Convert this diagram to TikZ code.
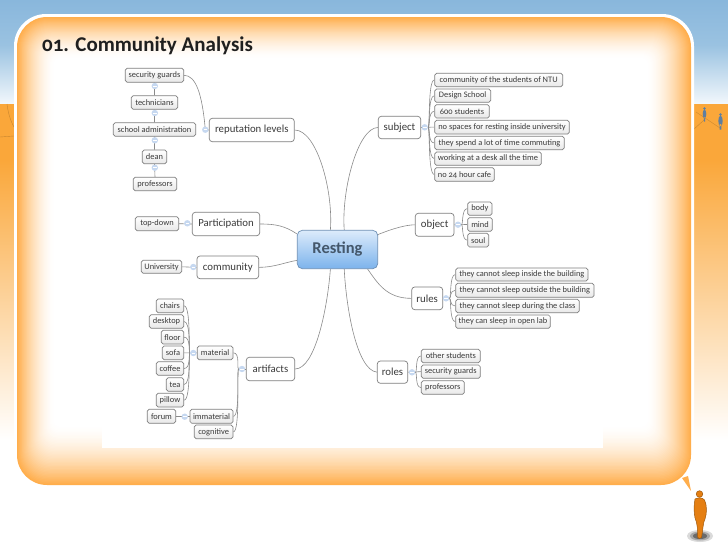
\documentclass[tikz,border=0pt]{standalone}
\usepackage{fontspec}
\setmainfont{Carlito}[Numbers=OldStyle]
\pgfdeclarelayer{bg}
\pgfdeclarelayer{conn}
\pgfsetlayers{bg,conn,main}
\definecolor{cardo}{HTML}{FFAE4C}
\definecolor{groundo}{HTML}{FAA73A}
\definecolor{skytop}{HTML}{89B7DC}
\definecolor{skymid}{HTML}{9AC2E1}
\definecolor{skylow}{HTML}{F3F8FC}
\definecolor{ink}{HTML}{3A3A3A}
\definecolor{boxline}{HTML}{7F7F7F}
\definecolor{wire}{HTML}{8A8A8A}
\definecolor{dot}{HTML}{C6D8F0}
\definecolor{mandk}{HTML}{E57F12}
\definecolor{roottop}{HTML}{DCEBFB}
\definecolor{rootlow}{HTML}{7CB3EC}
\definecolor{rootline}{HTML}{6C8FB5}
\definecolor{roottext}{HTML}{44576B}
\definecolor{farman}{HTML}{5F7FA0}
\definecolor{shadowa}{HTML}{DADADA}
\definecolor{shadowb}{HTML}{A8A8A8}
\definecolor{shadowc}{HTML}{6A6A6A}
\tikzset{
  leaf/.style={draw=boxline,line width=.7pt,rounded corners=1.8pt,top color=white,bottom color=black!9,font=\fontsize{8.4}{9}\selectfont,text=ink},
  midn/.style={draw=boxline,line width=.7pt,rounded corners=3pt,fill=white,font=\fontsize{10.8}{12}\selectfont,text=ink},
  rootn/.style={draw=rootline,line width=.7pt,rounded corners=5pt,top color=roottop,bottom color=rootlow,font=\bfseries\fontsize{16.5}{18}\selectfont,text=roottext},
  wirel/.style={draw=wire,line width=.6pt},
  dotn/.style={circle,fill=dot,inner sep=0pt,minimum size=6.4pt,
    path picture={\draw[white,line width=.6pt] ([xshift=-1.8pt]path picture bounding box.center) -- ([xshift=1.8pt]path picture bounding box.center);}}
}
\newcommand{\bx}[7][leaf]{\node[#1,inner sep=0pt,minimum width={(#5)-(#3)},minimum height={(#6)-(#4)}] (#2) at ({((#3)+(#5))/2},{((#4)+(#6))/2}) {#7};}
\newcommand{\cir}[3]{\node[dotn] (#1) at (#2,#3) {};}
\newcommand{\lnk}[4]{\draw[wirel] (#1) .. controls +(#3,0) and +(#4,0) .. (#2);}
\begin{document}
\begin{tikzpicture}[x=1pt,y=-1pt]
\useasboundingbox (0,0) rectangle (728,546);
\begin{pgfonlayer}{bg}
\fill[white] (0,0) rectangle (728,546);
\shade[top color=skytop,bottom color=skymid,draw=none] (0,0) rectangle (728,45);
\shade[top color=skymid,bottom color=skylow,draw=none] (0,45) rectangle (728,104.5);
\fill[groundo] (0,104) rectangle (728,160);
\shade[top color=groundo,bottom color=white,draw=none] (0,160) rectangle (728,440);
\draw[groundo!80!black,line width=.4pt] (7,104) .. controls (8,112) and (10,120) .. (14,127);
\draw[groundo!80!black,line width=.4pt] (0,137) -- (14,136);
\draw[groundo!80!black,line width=.4pt] (693,130) -- (704,120) (696,112) -- (720,128);
% people far
\fill[farman] (704.5,108.5) circle (1.3) (704.5,114) ellipse (1.8 and 4.5) (703.8,117) rectangle (705.2,121.5);
\fill[farman] (720.5,114.5) circle (1.4) (720.5,121) ellipse (2.2 and 5.5) (719.6,124) rectangle (721.4,129.5);
% card
\fill[white,rounded corners=32pt] (14,14) rectangle (694,486);
\foreach \i in {0,...,44}{
  \pgfmathsetmacro{\p}{100*(1-\i/44)^1.7}
  \pgfmathsetmacro{\rr}{max(30-\i*0.55,3)}
  \fill[cardo!\p!white,rounded corners=\rr pt] (17+\i*0.85,17+\i*0.95) rectangle (691-\i*1.0,485-\i*1.35);
}
\fill[white] (102,58) rectangle (603,448);
% speech tail
\fill[cardo] (682,478) -- (688,476) -- (691,491) -- cycle;
\end{pgfonlayer}

% person shadow
\fill[shadowa] (687,536) .. controls (687,528) and (713,528) .. (713,536) .. controls (713,544) and (687,544) .. (687,536) -- cycle;
\fill[shadowb] (690,536) .. controls (690,530) and (710,530) .. (710,536) .. controls (710,542) and (690,542) .. (690,536) -- cycle;
\fill[shadowc] (693,536) .. controls (693,532) and (707,532) .. (707,536) .. controls (707,540) and (693,540) .. (693,536) -- cycle;
% person
\fill[mandk,draw=mandk!70!black,line width=.5pt] (699.5,494) circle (3.3);
\fill[mandk,draw=mandk!70!black,line width=.5pt] (695,499) .. controls (698,497.5) and (702,497) .. (704.5,500) .. controls (707,505) and (707,513) .. (705,519) .. controls (703,522) and (703,530) .. (701.5,537.5) .. controls (700,539) and (698,539) .. (697.5,537) .. controls (698,530) and (697,522) .. (695,518) .. controls (693.8,512) and (693.8,505) .. (695,499) -- cycle;

\node[anchor=base west,inner sep=0pt,text=black!88,font=\bfseries\fontsize{21}{23}\selectfont] (title) at (42,51) {01. Community Analysis};

\bx[rootn]{res}{297.3}{230.3}{377.7}{268.7}{Resting}

% upper left
\bx[midn]{rep}{209.3}{118.3}{294.3}{141.7}{reputation levels}
\bx{sg}{125.3}{68.3}{183.7}{82.3}{security guards}
\bx{tech}{131.3}{95.7}{177.7}{109.3}{technicians}
\bx{school}{113.3}{122.7}{195.7}{136.3}{school administration}
\bx{dean}{142.3}{150}{166.7}{163.7}{dean}
\bx{prof}{133.3}{177.3}{176.7}{190.7}{professors}
\cir{crep}{205.3}{129.7}
\cir{c1}{154.8}{86}
\cir{c2}{154.8}{113}
\cir{c3}{154.8}{140.3}
\cir{c4}{154.8}{167.7}

\bx[midn]{part}{192.3}{212.3}{259.7}{235.7}{Participation}
\bx{topd}{135.3}{216.7}{178.7}{230.7}{top-down}
\cir{cpart}{187.3}{223.3}
\bx[midn]{comm}{197}{256}{258.7}{278.7}{community}
\bx{univ}{141.3}{260.3}{181.7}{273.3}{University}
\cir{ccomm}{193.3}{267}

% artifacts
\bx[midn]{art}{246.3}{357.3}{294.7}{380.7}{artifacts}
\cir{cart}{242}{369}
\bx{mat}{197.3}{346}{233}{359.7}{material}
\cir{cmat}{193.3}{353}
\bx{imm}{190}{409.3}{233}{423.3}{immaterial}
\cir{cimm}{184.7}{416.7}
\bx{forum}{147.3}{409.3}{175.7}{423.3}{forum}
\bx{cog}{194.3}{425}{233}{438.7}{cognitive}
\bx{chairs}{156.3}{299}{183.7}{312.7}{chairs}
\bx{desk}{149.3}{314.7}{183.7}{328.3}{desktop}
\bx{floor}{161.3}{330.3}{183.7}{344}{floor}
\bx{sofa}{162.3}{346}{183.7}{359.7}{sofa}
\bx{coffee}{156.3}{361.7}{183.7}{375.3}{coffee}
\bx{tea}{166.3}{377.7}{183.7}{391.3}{tea}
\bx{pillow}{156.3}{393.3}{183.7}{407}{pillow}

% subject
\bx[midn]{subj}{378.3}{116.3}{420.7}{138.7}{subject}
\cir{csubj}{424.7}{127.3}
\bx{s1}{434.7}{73.3}{562.7}{86.7}{community of the students of NTU}
\bx{s2}{434.7}{89}{490.7}{102.3}{Design School}
\bx{s3}{434.7}{104.7}{489.3}{118}{600 students}
\bx{s4}{434.7}{120.3}{569.3}{134}{no spaces for resting inside university}
\bx{s5}{434.7}{136.3}{564.3}{149.7}{they spend a lot of time commuting}
\bx{s6}{434.7}{152}{541.3}{165.3}{working at a desk all the time}
\bx{s7}{434.7}{167.7}{494.3}{181.3}{no 24 hour cafe}

% object
\bx[midn]{obj}{415.3}{213.3}{454}{236.3}{object}
\cir{cobj}{458}{224.7}
\bx{o1}{467.7}{202}{492}{215.3}{body}
\bx{o2}{467.7}{217.7}{492.3}{231.3}{mind}
\bx{o3}{467.7}{233.3}{488.7}{247}{soul}

% rules
\bx[midn]{rul}{411.7}{287}{442.7}{309.7}{rules}
\cir{crul}{446}{298.3}
\bx{r1}{455.7}{268}{588}{281}{they cannot sleep inside the building}
\bx{r2}{455.7}{283.3}{594}{297.3}{they cannot sleep outside the building}
\bx{r3}{455.7}{299.3}{579.3}{312.7}{they cannot sleep during the class}
\bx{r4}{455.7}{315}{550.3}{328.3}{they can sleep in open lab}

% roles
\bx[midn]{rol}{377.3}{361}{407.7}{383.3}{roles}
\cir{crol}{412}{372.3}
\bx{q1}{421.3}{349.3}{480.3}{362.7}{other students}
\bx{q2}{421.3}{365}{480.3}{378.3}{security guards}
\bx{q3}{421.3}{380.7}{464.3}{394.3}{professors}

\begin{pgfonlayer}{conn}
% central
\draw[wirel] (rep.east) .. controls +(22,0) and +(3,-40) .. (res.110);
\draw[wirel] (subj.west) .. controls +(-20,0) and +(-3,-40) .. (res.71);
\draw[wirel] (obj.west) .. controls +(-18,0) and +(-14,6) .. (res.20);
\draw[wirel] (rul.west) .. controls +(-25,0) and +(10,14) .. (res.327);
\draw[wirel] (rol.west) .. controls +(-20,-2) and +(2,40) .. (res.289);
\draw[wirel] (art.east) .. controls +(20,0) and +(-3,40) .. (res.250);
\draw[wirel] (part.east) .. controls +(16,0) and +(-12,-8) .. (res.159);
\draw[wirel] (comm.east) .. controls +(15,0) and +(-12,2) .. (res.195);
% chain
\draw[wirel] (sg.south) -- (tech.north) (tech.south) -- (school.north) (school.south) -- (dean.north) (dean.south) -- (prof.north);
\draw[wirel] (rep.west) -- (crep.center);
\draw[wirel] (crep.center) .. controls +(-3,-35) and +(12,0) .. (sg.east);
\draw[wirel] (part.west) -- (topd.east);
\draw[wirel] (comm.west) -- (univ.east);
\draw[wirel] (art.west) -- (cart.center);
\draw[wirel] (imm.west) -- (forum.east);
\foreach \k in {mat,imm,cog}{\lnk{cart.west}{\k.east}{-2}{7}}
\draw[wirel] (mat.west) -- (cmat.center);
\foreach \k in {chairs,desk,floor,sofa,coffee,tea,pillow}{\lnk{cmat.west}{\k.east}{-1.5}{7}}
\draw[wirel] (subj.east) -- (csubj.center);
\foreach \k in {s1,s2,s3,s4,s5,s6,s7}{\lnk{csubj.east}{\k.west}{2}{-6.5}}
\draw[wirel] (obj.east) -- (cobj.center);
\foreach \k in {o1,o2,o3}{\lnk{cobj.east}{\k.west}{2}{-6}}
\draw[wirel] (rul.east) -- (crul.center);
\foreach \k in {r1,r2,r3,r4}{\lnk{crul.east}{\k.west}{2}{-6}}
\draw[wirel] (rol.east) -- (crol.center);
\foreach \k in {q1,q2,q3}{\lnk{crol.east}{\k.west}{2}{-6}}
\end{pgfonlayer}
\end{tikzpicture}
\end{document}
